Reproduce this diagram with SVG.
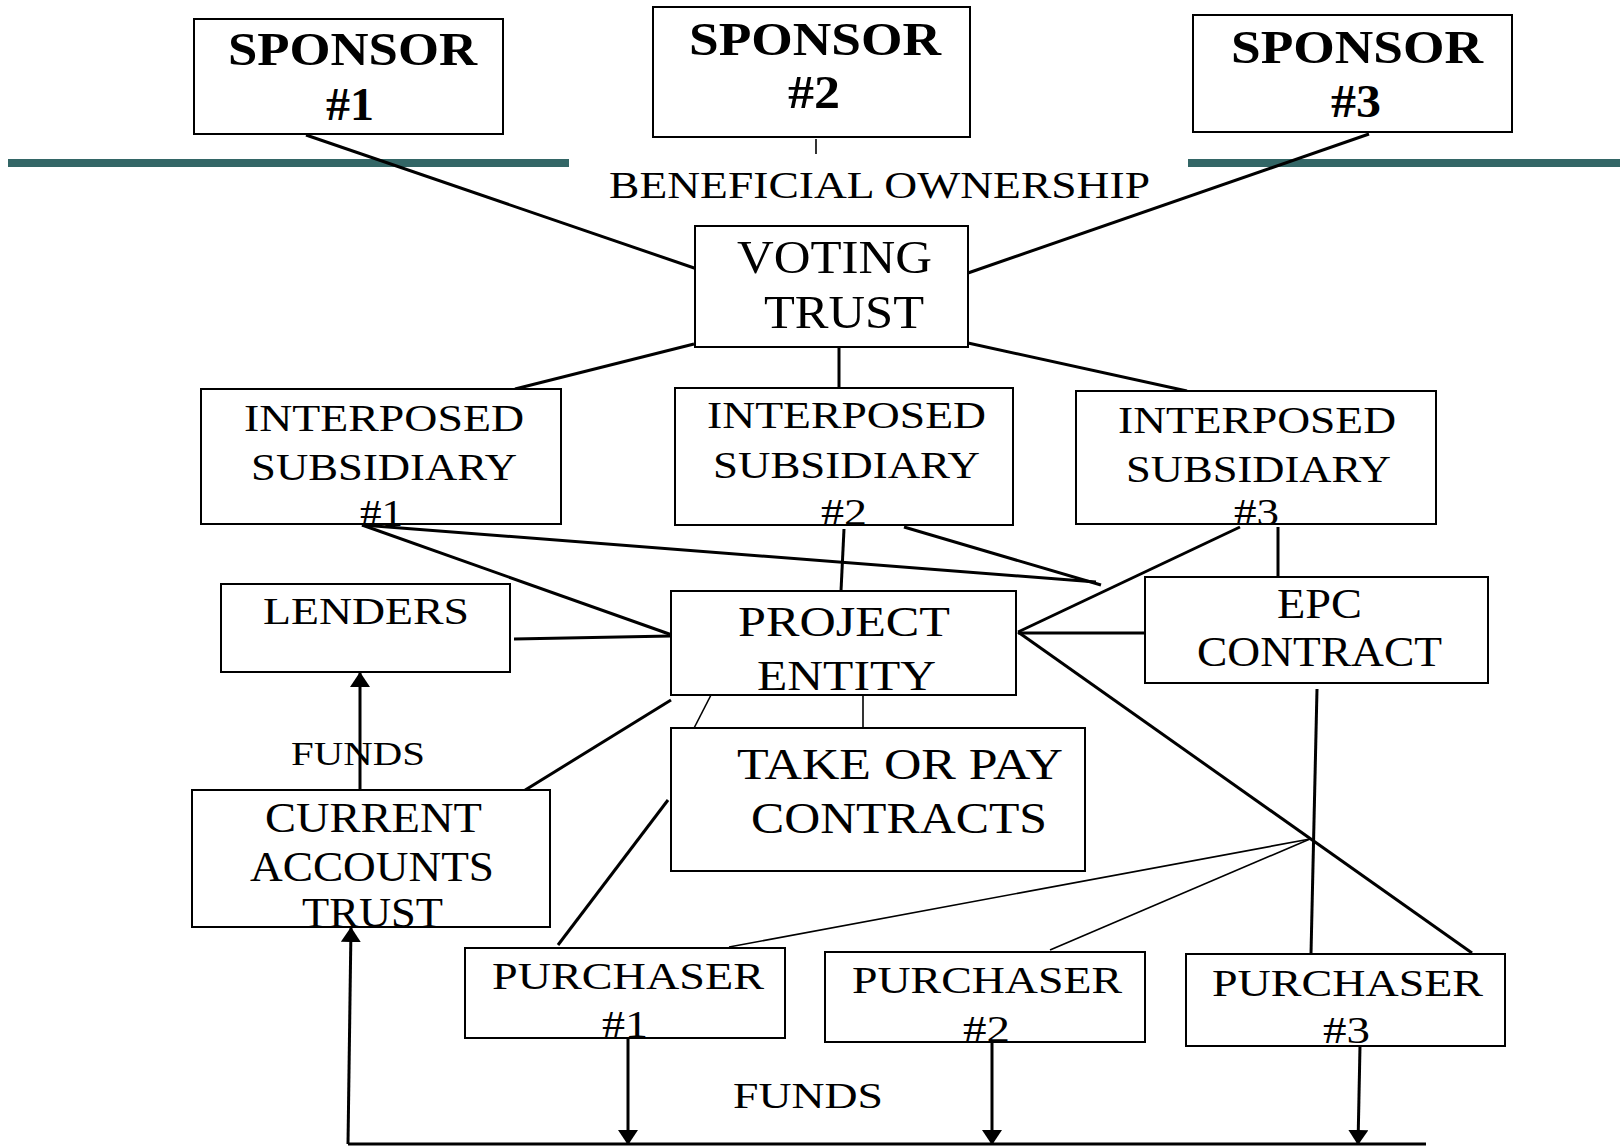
<svg xmlns="http://www.w3.org/2000/svg" width="1620" height="1146" viewBox="0 0 1620 1146">
<style>
.box{fill:#fff;stroke:#000;stroke-width:2}
.t{font-family:"Liberation Serif","Times New Roman",serif;fill:#000}
.b{font-weight:bold;font-size:46px}
.c{stroke:#000;stroke-width:3;fill:none}
.thin{stroke:#000;stroke-width:1.6;fill:none}
.bar{stroke:#336666;stroke-width:8}
</style>
<defs>
<marker id="ah" markerUnits="userSpaceOnUse" viewBox="0 0 15 20" markerWidth="15" markerHeight="20" refX="15" refY="10" orient="auto">
<path d="M0,0 L15,10 L0,20 Z" fill="#000"/>
</marker>
</defs>
<rect width="1620" height="1146" fill="#fff"/>
<g id="bars">
<line class="bar" x1="8" y1="163" x2="569" y2="163"/>
<line class="bar" x1="1188" y1="163" x2="1620" y2="163"/>
</g>
<g id="connectors">
<line class="c" x1="306" y1="135" x2="700" y2="270"/>
<line class="c" x1="1369" y1="134" x2="968" y2="273"/>
<line class="c" x1="694" y1="344" x2="515" y2="389"/>
<line class="c" x1="839" y1="347" x2="839" y2="388"/>
<line class="c" x1="968" y1="343" x2="1187" y2="391"/>
<line class="c" x1="362" y1="525" x2="672" y2="635"/>
<line class="c" x1="362" y1="525" x2="1096" y2="582"/>
<line class="c" x1="904" y1="527" x2="1101" y2="585"/>
<line class="c" x1="844" y1="529" x2="841" y2="591"/>
<line class="c" x1="1018" y1="632" x2="1240" y2="527"/>
<line class="c" x1="1278" y1="527" x2="1278" y2="576"/>
<line class="c" x1="1018" y1="633" x2="1144" y2="633"/>
<line class="c" x1="514" y1="639" x2="671" y2="636"/>
<line class="c" x1="671" y1="700" x2="522" y2="792"/>
<line class="c" x1="668" y1="800" x2="558" y2="945"/>
<line class="c" x1="1018" y1="632" x2="1472" y2="953"/>
<line class="c" x1="1317" y1="689" x2="1311" y2="954"/>
<line class="thin" x1="711" y1="695" x2="691" y2="734"/>
<line class="thin" x1="863" y1="695" x2="863" y2="729"/>
<line class="thin" x1="1310" y1="839" x2="729" y2="947"/>
<line class="thin" x1="1310" y1="839" x2="1050" y2="950"/>
<line class="thin" x1="816" y1="139" x2="816" y2="154"/>
<line class="c" x1="360" y1="790" x2="360" y2="672" marker-end="url(#ah)"/>
<line class="c" x1="348" y1="1144" x2="1426" y2="1144"/>
<line class="c" x1="348" y1="1144" x2="351" y2="927" marker-end="url(#ah)"/>
<line class="c" x1="628" y1="1038" x2="628" y2="1145" marker-end="url(#ah)"/>
<line class="c" x1="992" y1="1042" x2="992" y2="1145" marker-end="url(#ah)"/>
<line class="c" x1="1360" y1="1046" x2="1358" y2="1145" marker-end="url(#ah)"/>
</g>
<g id="sponsor1">
<rect class="box" x="194" y="19" width="309" height="115"/>
<text class="t b" x="228" y="65" textLength="249" lengthAdjust="spacingAndGlyphs">SPONSOR</text>
<text class="t b" x="326" y="120" textLength="48" lengthAdjust="spacingAndGlyphs">#1</text>
</g>
<g id="sponsor2">
<rect class="box" x="653" y="7" width="317" height="130"/>
<text class="t b" x="689" y="55" textLength="252" lengthAdjust="spacingAndGlyphs">SPONSOR</text>
<text class="t b" x="788" y="108" textLength="52" lengthAdjust="spacingAndGlyphs">#2</text>
</g>
<g id="sponsor3">
<rect class="box" x="1193" y="15" width="319" height="117"/>
<text class="t b" x="1231" y="63" textLength="252" lengthAdjust="spacingAndGlyphs">SPONSOR</text>
<text class="t b" x="1331" y="117" textLength="50" lengthAdjust="spacingAndGlyphs">#3</text>
</g>
<g id="beneficial-ownership">
<text class="t" x="609" y="198" font-size="38" textLength="541" lengthAdjust="spacingAndGlyphs">BENEFICIAL OWNERSHIP</text>
</g>
<g id="voting-trust">
<rect class="box" x="695" y="226" width="273" height="121"/>
<text class="t" x="737" y="273" font-size="46" textLength="195" lengthAdjust="spacingAndGlyphs">VOTING</text>
<text class="t" x="764" y="328" font-size="46" textLength="160" lengthAdjust="spacingAndGlyphs">TRUST</text>
</g>
<g id="interposed1">
<rect class="box" x="201" y="389" width="360" height="135"/>
<text class="t" x="244" y="431" font-size="38" textLength="280" lengthAdjust="spacingAndGlyphs">INTERPOSED</text>
<text class="t" x="251" y="480" font-size="38" textLength="266" lengthAdjust="spacingAndGlyphs">SUBSIDIARY</text>
<text class="t" x="360" y="526" font-size="38" textLength="43" lengthAdjust="spacingAndGlyphs">#1</text>
</g>
<g id="interposed2">
<rect class="box" x="675" y="388" width="338" height="137"/>
<text class="t" x="707" y="428" font-size="38" textLength="279" lengthAdjust="spacingAndGlyphs">INTERPOSED</text>
<text class="t" x="713" y="478" font-size="38" textLength="267" lengthAdjust="spacingAndGlyphs">SUBSIDIARY</text>
<text class="t" x="821" y="525" font-size="38" textLength="46" lengthAdjust="spacingAndGlyphs">#2</text>
</g>
<g id="interposed3">
<rect class="box" x="1076" y="391" width="360" height="133"/>
<text class="t" x="1118" y="433" font-size="38" textLength="278" lengthAdjust="spacingAndGlyphs">INTERPOSED</text>
<text class="t" x="1126" y="482" font-size="38" textLength="265" lengthAdjust="spacingAndGlyphs">SUBSIDIARY</text>
<text class="t" x="1234" y="525" font-size="38" textLength="45" lengthAdjust="spacingAndGlyphs">#3</text>
</g>
<g id="lenders">
<rect class="box" x="221" y="584" width="289" height="88"/>
<text class="t" x="263" y="624" font-size="38" textLength="206" lengthAdjust="spacingAndGlyphs">LENDERS</text>
</g>
<g id="project-entity">
<rect class="box" x="671" y="591" width="345" height="104"/>
<text class="t" x="738" y="636" font-size="42" textLength="212" lengthAdjust="spacingAndGlyphs">PROJECT</text>
<text class="t" x="757" y="690" font-size="42" textLength="179" lengthAdjust="spacingAndGlyphs">ENTITY</text>
</g>
<g id="epc-contract">
<rect class="box" x="1145" y="577" width="343" height="106"/>
<text class="t" x="1277" y="618" font-size="42" textLength="85" lengthAdjust="spacingAndGlyphs">EPC</text>
<text class="t" x="1197" y="666" font-size="42" textLength="245" lengthAdjust="spacingAndGlyphs">CONTRACT</text>
</g>
<g id="take-or-pay">
<rect class="box" x="671" y="728" width="414" height="143"/>
<text class="t" x="737" y="779" font-size="44" textLength="326" lengthAdjust="spacingAndGlyphs">TAKE OR PAY</text>
<text class="t" x="751" y="833" font-size="44" textLength="296" lengthAdjust="spacingAndGlyphs">CONTRACTS</text>
</g>
<g id="current-accounts-trust">
<rect class="box" x="192" y="790" width="358" height="137"/>
<text class="t" x="265" y="832" font-size="42" textLength="217" lengthAdjust="spacingAndGlyphs">CURRENT</text>
<text class="t" x="250" y="881" font-size="42" textLength="244" lengthAdjust="spacingAndGlyphs">ACCOUNTS</text>
<text class="t" x="302" y="927" font-size="42" textLength="141" lengthAdjust="spacingAndGlyphs">TRUST</text>
</g>
<g id="funds-label-1">
<text class="t" x="291" y="765" font-size="34" textLength="134" lengthAdjust="spacingAndGlyphs">FUNDS</text>
</g>
<g id="purchaser1">
<rect class="box" x="465" y="948" width="320" height="90"/>
<text class="t" x="492" y="989" font-size="38" textLength="272" lengthAdjust="spacingAndGlyphs">PURCHASER</text>
<text class="t" x="602" y="1037" font-size="38" textLength="46" lengthAdjust="spacingAndGlyphs">#1</text>
</g>
<g id="purchaser2">
<rect class="box" x="825" y="952" width="320" height="90"/>
<text class="t" x="852" y="993" font-size="38" textLength="270" lengthAdjust="spacingAndGlyphs">PURCHASER</text>
<text class="t" x="963" y="1042" font-size="38" textLength="47" lengthAdjust="spacingAndGlyphs">#2</text>
</g>
<g id="purchaser3">
<rect class="box" x="1186" y="954" width="319" height="92"/>
<text class="t" x="1212" y="996" font-size="38" textLength="271" lengthAdjust="spacingAndGlyphs">PURCHASER</text>
<text class="t" x="1323" y="1043" font-size="38" textLength="47" lengthAdjust="spacingAndGlyphs">#3</text>
</g>
<g id="funds-label-2">
<text class="t" x="733" y="1108" font-size="36" textLength="150" lengthAdjust="spacingAndGlyphs">FUNDS</text>
</g>
</svg>
